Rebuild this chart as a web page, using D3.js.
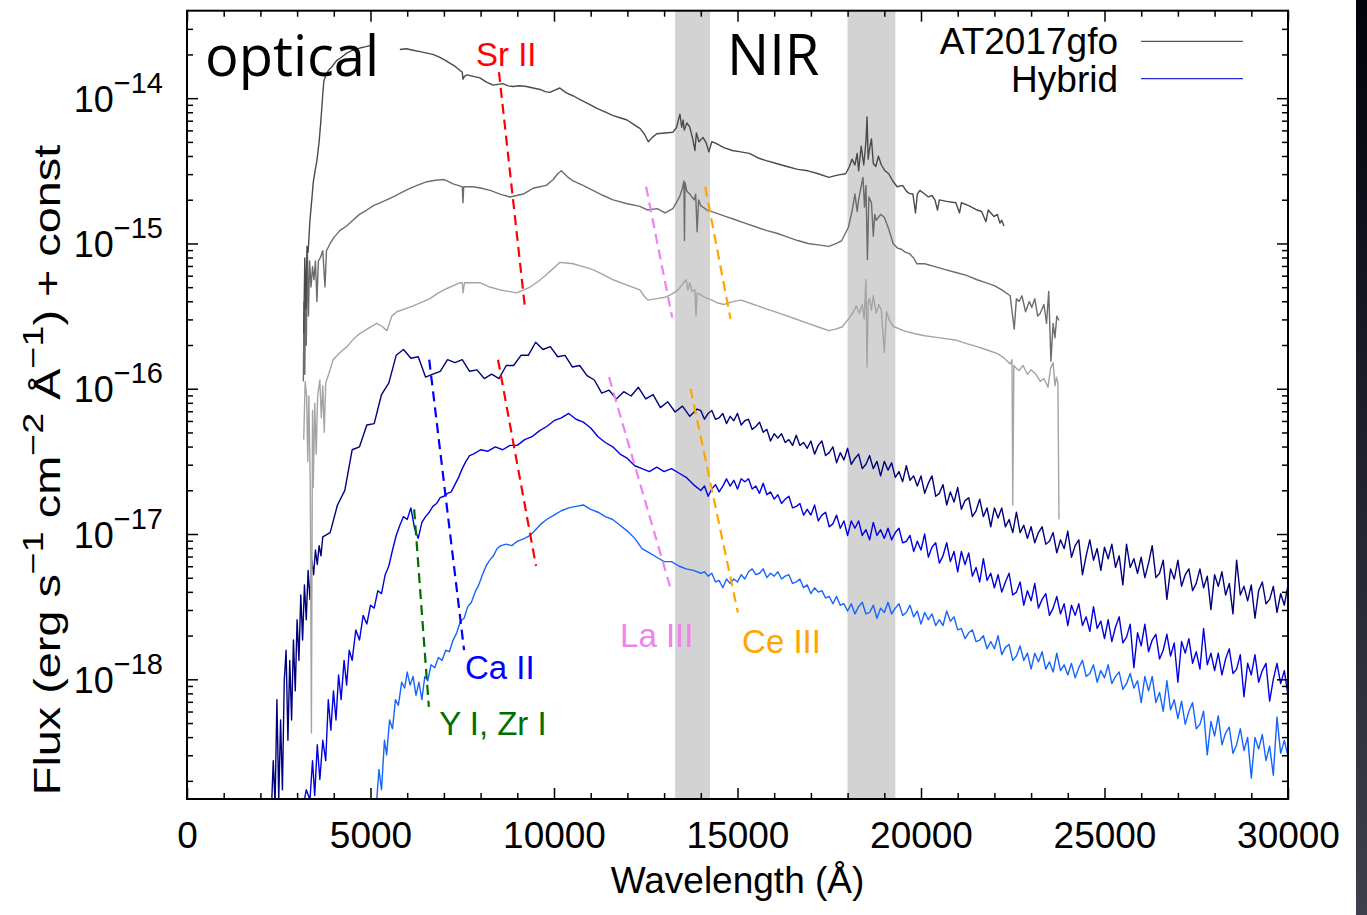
<!DOCTYPE html>
<html>
<head>
<meta charset="utf-8">
<script src="https://cdn.jsdelivr.net/npm/d3@7"></script>
<style>
  html, body { margin: 0; padding: 0; background: #fff; }
  svg { display: block; }
  text { font-family: "Liberation Sans", Arial, Helvetica, sans-serif; fill: #000; }
</style>
</head>
<body>
<svg id="chart" width="1367" height="915"></svg>
<script>
// spectra: [wavelength (Angstrom), log10 flux (erg s^-1 cm^-2 A^-1)]
// null flux = gap in the spectrum
const obs1 = [[3180,-15.62],[3210,-15.10],[3240,-15.45],[3270,-15.02],[3300,-15.06],[3350,-14.84],[3400,-14.70],[3440,-14.58],[3490,-14.50],[3540,-14.43],[3600,-14.30],[3640,-14.18],[3670,-14.08],[3700,-13.97],[3730,-13.88],[3790,-13.84],[3850,-13.81],[3960,-13.78],[4080,-13.74],[4200,-13.72],[4350,-13.69],[4520,-13.67],[4710,-13.655],[4880,-13.645],[5030,-13.635],[5300,null],
  [5800,-13.665],[5980,-13.66],[6160,-13.67],[6350,-13.68],[6540,-13.69],[6720,-13.70],[6890,-13.72],[7040,-13.74],[7170,-13.76],[7300,-13.78],[7440,-13.81],[7500,-13.82],[7520,-13.87],[7560,-13.85],[7630,-13.84],[7800,-13.85],[7980,-13.86],[8160,-13.89],[8340,-13.91],[8470,-13.905],[8610,-13.90],[8750,-13.915],[8880,-13.92],[9060,-13.915],[9250,-13.92],[9430,-13.93],[9620,-13.94],[9760,-13.955],[9890,-13.96],[10020,-13.945],[10160,-13.93],[10260,-13.95],[10350,-13.965],[10530,-13.985],[10710,-14.01],[10940,-14.04],[11170,-14.07],[11390,-14.095],[11610,-14.12],[11800,-14.135],[11990,-14.15],[12170,-14.18],[12350,-14.21],[12470,-14.25],[12570,-14.30],[12680,-14.27],[12800,-14.245],[13020,-14.24],[13240,-14.235],[13340,-14.20],[13430,-14.11],[13480,-14.20],[13520,-14.15],[13550,-14.22],[13620,-14.17],[13700,-14.20],[13780,-14.28],[13840,-14.36],[13880,-14.24],[13950,-14.30],[14060,-14.27],[14150,-14.31],[14220,-14.37],[14300,-14.30],[14400,-14.31],[14630,-14.34],[14860,-14.36],[15090,-14.37],[15320,-14.38],[15550,-14.41],[15780,-14.43],[16060,-14.45],[16350,-14.47],[16640,-14.49],[16920,-14.50],[17200,-14.52],[17490,-14.545],[17720,-14.53],[17950,-14.52],[18050,-14.47],[18120,-14.42],[18200,-14.46],[18260,-14.38],[18300,-14.50],[18370,-14.33],[18440,-14.46],[18500,-14.30],[18530,-14.13],[18560,-14.42],[18590,-14.36],[18650,-14.28],[18700,-14.45],[18770,-14.47],[18840,-14.40],[18920,-14.46],[19020,-14.50],[19120,-14.52],[19230,-14.57],[19350,-14.61],[19500,-14.60],[19600,-14.64],[19680,-14.655],[19780,-14.66],[19850,-14.79],[19900,-14.66],[19970,-14.635],[20100,-14.66],[20200,-14.68],[20300,-14.67],[20380,-14.70],[20450,-14.77],[20500,-14.70],[20700,-14.71],[20950,-14.72],[21050,-14.79],[21100,-14.72],[21300,-14.74],[21530,-14.77],[21650,-14.78],[21770,-14.85],[21830,-14.77],[21990,-14.815],[22080,-14.80],[22150,-14.86],[22200,-14.84],[22260,-14.88]];

const obs2 = [[3170,-15.95],[3190,-15.40],[3210,-15.90],[3230,-15.20],[3250,-15.70],[3280,-15.05],[3310,-15.50],[3340,-15.12],[3380,-15.30],[3420,-15.16],[3460,-15.25],[3500,-15.12],[3540,-15.40],[3580,-15.12],[3630,-15.10],[3700,-15.05],[3760,-15.30],[3800,-15.05],[3900,-15.00],[4000,-14.96],[4170,-14.91],[4350,-14.88],[4520,-14.84],[4700,-14.80],[4900,-14.77],[5080,-14.74],[5260,-14.72],[5440,-14.70],[5620,-14.68],[5800,-14.655],[6000,-14.63],[6270,-14.60],[6540,-14.575],[6770,-14.565],[7000,-14.56],[7130,-14.575],[7250,-14.59],[7380,-14.60],[7500,-14.61],[7520,-14.72],[7540,-14.61],[7800,-14.61],[8030,-14.62],[8260,-14.635],[8530,-14.66],[8800,-14.68],[8980,-14.67],[9160,-14.66],[9300,-14.64],[9430,-14.62],[9610,-14.61],[9790,-14.60],[9980,-14.56],[10100,-14.52],[10200,-14.50],[10360,-14.54],[10520,-14.57],[10790,-14.60],[11060,-14.635],[11340,-14.67],[11610,-14.70],[11970,-14.725],[12340,-14.745],[12560,-14.77],[12810,-14.76],[13030,-14.79],[13240,-14.76],[13420,-14.68],[13500,-14.62],[13540,-14.57],[13555,-14.98],[13570,-14.58],[13620,-14.64],[13700,-14.66],[13820,-14.70],[13860,-14.66],[13900,-14.92],[13940,-14.70],[14000,-14.74],[14170,-14.77],[14400,-14.79],[14630,-14.81],[14920,-14.835],[15200,-14.86],[15490,-14.885],[15780,-14.91],[16070,-14.93],[16350,-14.955],[16640,-14.98],[16920,-15.00],[17200,-15.01],[17490,-15.02],[17700,-15.00],[17840,-14.98],[18020,-14.89],[18120,-14.78],[18200,-14.66],[18260,-14.78],[18300,-14.70],[18360,-14.62],[18420,-14.545],[18460,-14.75],[18500,-14.60],[18540,-15.11],[18580,-14.68],[18650,-14.72],[18700,-14.95],[18740,-14.80],[18780,-14.84],[18900,-14.80],[19000,-14.82],[19120,-14.90],[19240,-15.00],[19350,-15.03],[19460,-15.04],[19570,-15.06],[19680,-15.07],[19800,-15.10],[19890,-15.14],[20100,-15.14],[20380,-15.16],[20660,-15.18],[20950,-15.20],[21240,-15.22],[21530,-15.25],[21760,-15.27],[22000,-15.29],[22200,-15.32],[22430,-15.36],[22540,-15.59],[22600,-15.38],[22670,-15.40],[22750,-15.36],[22850,-15.47],[22950,-15.40],[23020,-15.44],[23100,-15.38],[23180,-15.50],[23250,-15.48],[23350,-15.42],[23420,-15.55],[23480,-15.33],[23540,-15.81],[23600,-15.55],[23650,-15.65],[23700,-15.50],[23760,-15.53]];

const obs3 = [[3180,-16.35],[3220,-15.95],[3260,-16.05],[3290,-16.50],[3320,-16.05],[3360,-16.70],[3390,-18.37],[3420,-16.15],[3440,-16.68],[3480,-16.10],[3520,-16.45],[3560,-16.05],[3620,-15.94],[3660,-16.20],[3700,-15.98],[3740,-16.30],[3780,-15.96],[3900,-15.87],[3980,-15.80],[4170,-15.75],[4360,-15.71],[4530,-15.66],[4710,-15.62],[4940,-15.585],[5170,-15.55],[5310,-15.57],[5450,-15.60],[5580,-15.50],[5720,-15.47],[5940,-15.45],[6160,-15.43],[6390,-15.405],[6620,-15.38],[6850,-15.34],[7080,-15.31],[7260,-15.29],[7440,-15.27],[7500,-15.27],[7520,-15.34],[7560,-15.27],[7980,-15.27],[8250,-15.30],[8530,-15.32],[8760,-15.33],[8980,-15.34],[9170,-15.32],[9350,-15.30],[9580,-15.26],[9810,-15.21],[9990,-15.17],[10160,-15.13],[10340,-15.135],[10520,-15.14],[10790,-15.16],[11060,-15.18],[11340,-15.215],[11610,-15.25],[11970,-15.285],[12340,-15.32],[12450,-15.36],[12560,-15.39],[12800,-15.38],[13030,-15.37],[13200,-15.35],[13380,-15.32],[13500,-15.28],[13600,-15.25],[13650,-15.32],[13700,-15.27],[13760,-15.33],[13840,-15.32],[13870,-15.50],[13900,-15.34],[14100,-15.37],[14300,-15.39],[14470,-15.41],[14630,-15.42],[14870,-15.40],[15100,-15.39],[15330,-15.41],[15550,-15.43],[15840,-15.455],[16130,-15.48],[16530,-15.515],[16920,-15.55],[17200,-15.575],[17490,-15.60],[17670,-15.59],[17850,-15.575],[17960,-15.54],[18070,-15.505],[18160,-15.47],[18240,-15.43],[18320,-15.48],[18400,-15.42],[18450,-15.52],[18500,-15.25],[18530,-15.85],[18560,-15.40],[18600,-15.38],[18650,-15.46],[18700,-15.36],[18780,-15.48],[18850,-15.42],[18920,-15.46],[19000,-15.75],[19060,-15.47],[19140,-15.53],[19240,-15.57],[19520,-15.60],[19810,-15.62],[20100,-15.635],[20380,-15.645],[20660,-15.655],[20950,-15.665],[21240,-15.69],[21530,-15.71],[21820,-15.735],[22100,-15.76],[22270,-15.79],[22430,-15.83],[22480,-15.80],[22500,-16.80],[22530,-15.84],[22600,-15.86],[22670,-15.875],[22780,-15.84],[22900,-15.90],[23000,-15.87],[23130,-15.90],[23250,-15.95],[23350,-15.93],[23460,-15.99],[23530,-15.86],[23600,-15.82],[23650,-15.98],[23690,-15.92],[23730,-15.96],[23760,-16.90]];

const hybrid1 = [[2300,-18.90],[2350,-18.56],[2400,-18.86],[2450,-18.14],[2500,-18.83],[2550,-18.28],[2600,-18.76],[2650,-18.01],[2700,-17.80],[2750,-18.42],[2800,-17.87],[2850,-18.28],[2900,-17.73],[2950,-18.08],[3000,-17.59],[3050,-17.87],[3100,-17.42],[3150,-17.73],[3200,-17.35],[3250,-17.59],[3300,-17.25],[3350,-17.45],[3400,-17.18],[3450,-17.28],[3500,-17.11],[3550,-17.21],[3600,-17.08],[3650,-17.15],
  [3700,-17.02],[3900,-16.99],[4100,-16.80],[4300,-16.70],[4500,-16.42],[4700,-16.40],[4900,-16.25],[5100,-16.24],[5300,-16.04],[5500,-15.96],[5700,-15.77],[5900,-15.73],[6100,-15.79],[6300,-15.78],[6500,-15.92],[6700,-15.90],[6900,-15.88],[7100,-15.80],[7300,-15.82],[7500,-15.80],[7700,-15.88],[7900,-15.87],[8100,-15.93],[8300,-15.90],[8500,-15.93],[8700,-15.84],[8900,-15.84],[9100,-15.77],[9300,-15.77],[9500,-15.68],[9700,-15.73],[9900,-15.71],[10100,-15.78],[10300,-15.77],[10500,-15.85],[10700,-15.84],[10900,-15.91],[11100,-15.94],[11300,-16.03],[11500,-16.01],[11700,-16.07],[11900,-16.02],[12100,-16.05],[12300,-15.99],[12500,-16.07],[12700,-16.04],[12900,-16.13],[13100,-16.09],[13300,-16.16],[13500,-16.12],[13700,-16.19],[13900,-16.14],
  [14000,-16.15],[14100,-16.21],[14200,-16.17],[14300,-16.15],[14400,-16.21],[14500,-16.20],[14600,-16.17],[14700,-16.24],[14800,-16.19],[14900,-16.22],[15000,-16.17],[15100,-16.25],[15200,-16.22],[15300,-16.21],[15400,-16.28],[15500,-16.26],[15600,-16.23],[15700,-16.30],[15800,-16.28],[15900,-16.36],[16000,-16.31],[16100,-16.34],[16200,-16.31],[16300,-16.37],[16400,-16.35],[16500,-16.39],[16600,-16.32],[16700,-16.39],[16800,-16.37],[16900,-16.41],
  [17000,-16.36],[17100,-16.45],[17200,-16.39],[17300,-16.36],[17400,-16.46],[17500,-16.44],[17600,-16.40],[17700,-16.51],[17800,-16.44],[17900,-16.49],[18000,-16.41],[18100,-16.52],[18200,-16.48],[18300,-16.45],[18400,-16.55],[18500,-16.52],[18600,-16.46],[18700,-16.55],[18800,-16.50],[18900,-16.60],[19000,-16.50],[19100,-16.56],[19200,-16.51],[19300,-16.61],[19400,-16.57],[19500,-16.64],[19600,-16.53],[19700,-16.63],[19800,-16.60],[19900,-16.67],
  [20000,-16.60],[20100,-16.72],[20200,-16.65],[20300,-16.60],[20400,-16.74],[20500,-16.72],[20600,-16.66],[20700,-16.80],[20800,-16.71],[20900,-16.78],[21000,-16.68],[21100,-16.83],[21200,-16.77],[21300,-16.75],[21400,-16.88],[21500,-16.84],[21600,-16.76],[21700,-16.88],[21800,-16.82],[21900,-16.95],[22000,-16.82],[22100,-16.89],[22200,-16.82],[22300,-16.95],[22400,-16.90],[22500,-16.99],[22600,-16.85],[22700,-16.99],[22800,-16.94],[22900,-17.03],
  [23000,-16.95],[23100,-17.06],[23200,-16.99],[23300,-16.95],[23400,-17.07],[23500,-17.05],[23600,-16.99],[23700,-17.13],[23800,-17.04],[23900,-17.10],[24000,-16.98],[24100,-17.16],[24200,-17.08],[24300,-17.04],[24400,-17.28],[24500,-17.15],[24600,-17.04],[24700,-17.18],[24800,-17.10],[24900,-17.25],[25000,-17.09],[25100,-17.17],[25200,-17.07],[25300,-17.23],[25400,-17.15],[25500,-17.35],[25600,-17.07],[25700,-17.23],[25800,-17.17],[25900,-17.27],
  [26000,-17.16],[26100,-17.30],[26200,-17.20],[26300,-17.08],[26400,-17.30],[26500,-17.27],[26600,-17.18],[26700,-17.45],[26800,-17.24],[26900,-17.31],[27000,-17.18],[27100,-17.36],[27200,-17.28],[27300,-17.24],[27400,-17.39],[27500,-17.34],[27600,-17.24],[27700,-17.37],[27800,-17.29],[27900,-17.52],[28000,-17.28],[28100,-17.36],[28200,-17.26],[28300,-17.42],[28400,-17.34],[28500,-17.55],[28600,-17.18],[28700,-17.42],[28800,-17.36],[28900,-17.46],
  [29000,-17.35],[29100,-17.58],[29200,-17.39],[29300,-17.33],[29400,-17.48],[29500,-17.45],[29600,-17.36],[29700,-17.54],[29800,-17.41],[29900,-17.49],[30000,-17.35]];

const hybrid2 = [[3150,-18.90],[3250,-18.76],[3350,-18.83],[3420,-18.56],[3480,-18.80],[3550,-18.45],[3620,-18.69],[3700,-18.42],[3780,-18.56],[3850,-18.14],[3920,-18.35],[3990,-18.08],[4060,-18.28],[4130,-17.97],[4200,-18.14],[4280,-17.87],[4350,-18.04],[4420,-17.80],[4500,-17.87],[4600,-17.66],[4700,-17.73],[4800,-17.56],[4900,-17.62],[5000,-17.49],[5100,-17.51],[5200,-17.39],[5300,-17.41],[5400,-17.28],[5500,-17.22],[5600,-17.11],[5700,-17.01],[5800,-16.94],[5900,-16.88],[6000,-16.90],[6100,-16.82],[6200,-16.96],[6300,-17.03],[6400,-16.92],[6500,-16.88],[6600,-16.85],[6700,-16.81],[6800,-16.79],[6900,-16.75],[7000,-16.74],[7100,-16.72],[7200,-16.71],[7300,-16.66],[7400,-16.61],[7500,-16.55],[7600,-16.50],[7700,-16.46],[7800,-16.45],[8000,-16.42],[8200,-16.43],[8400,-16.40],[8600,-16.42],[8800,-16.39],[9000,-16.39],[9200,-16.35],[9400,-16.33],[9600,-16.29],[9800,-16.26],[10000,-16.22],[10200,-16.20],[10400,-16.17],[10600,-16.21],[10800,-16.23],[11000,-16.27],[11200,-16.33],[11400,-16.37],[11600,-16.40],[11800,-16.45],[12000,-16.48],[12200,-16.53],[12400,-16.55],[12600,-16.57],[12800,-16.54],[13000,-16.57],[13200,-16.55],[13400,-16.58],[13600,-16.61],[13800,-16.66],[14000,-16.70],
  [14100,-16.67],[14200,-16.74],[14300,-16.69],[14400,-16.66],[14500,-16.71],[14600,-16.67],[14700,-16.62],[14800,-16.67],[14900,-16.63],[15000,-16.69],[15100,-16.62],[15200,-16.64],[15300,-16.62],[15400,-16.69],[15500,-16.67],[15600,-16.72],[15700,-16.65],[15800,-16.73],[15900,-16.71],[16000,-16.76],[16100,-16.73],[16200,-16.79],[16300,-16.76],[16400,-16.74],[16500,-16.82],[16600,-16.81],[16700,-16.79],[16800,-16.87],[16900,-16.83],
  [17000,-16.87],[17100,-16.80],[17200,-16.91],[17300,-16.87],[17400,-16.85],[17500,-16.95],[17600,-16.93],[17700,-16.87],[17800,-16.96],[17900,-16.91],[18000,-17.01],[18100,-16.91],[18200,-16.96],[18300,-16.91],[18400,-17.01],[18500,-16.97],[18600,-17.04],[18700,-16.92],[18800,-17.01],[18900,-16.97],[19000,-17.03],[19100,-16.96],[19200,-17.04],[19300,-16.99],[19400,-16.96],[19500,-17.06],[19600,-17.05],[19700,-17.01],[19800,-17.12],[19900,-17.05],
  [20000,-17.11],[20100,-17.00],[20200,-17.16],[20300,-17.09],[20400,-17.06],[20500,-17.20],[20600,-17.15],[20700,-17.06],[20800,-17.19],[20900,-17.12],[21000,-17.26],[21100,-17.12],[21200,-17.21],[21300,-17.13],[21400,-17.29],[21500,-17.23],[21600,-17.33],[21700,-17.17],[21800,-17.32],[21900,-17.27],[22000,-17.37],[22100,-17.28],[22200,-17.40],[22300,-17.33],[22400,-17.27],[22500,-17.42],[22600,-17.40],[22700,-17.33],[22800,-17.49],[22900,-17.39],
  [23000,-17.46],[23100,-17.34],[23200,-17.51],[23300,-17.45],[23400,-17.41],[23500,-17.56],[23600,-17.51],[23700,-17.43],[23800,-17.55],[23900,-17.48],[24000,-17.63],[24100,-17.49],[24200,-17.56],[24300,-17.48],[24400,-17.63],[24500,-17.57],[24600,-17.67],[24700,-17.50],[24800,-17.65],[24900,-17.60],
  [25000,-17.72],[25100,-17.59],[25200,-17.74],[25300,-17.64],[25400,-17.57],[25500,-17.75],[25600,-17.71],[25700,-17.62],[25800,-17.92],[25900,-17.68],[26000,-17.77],[26100,-17.62],[26200,-17.81],[26300,-17.73],[26400,-17.69],[26500,-17.86],[26600,-17.80],[26700,-17.69],[26800,-17.84],[26900,-17.75],[27000,-18.02],[27100,-17.74],[27200,-17.82],[27300,-17.72],[27400,-17.89],[27500,-17.81],[27600,-17.93],[27700,-17.65],[27800,-17.90],[27900,-17.82],
  [28000,-17.94],[28100,-17.82],[28200,-17.97],[28300,-17.86],[28400,-17.79],[28500,-17.96],[28600,-17.93],[28700,-17.83],[28800,-18.12],[28900,-17.89],[29000,-17.97],[29100,-17.83],[29200,-18.02],[29300,-17.94],[29400,-17.89],[29500,-18.15],[29600,-18.00],[29700,-17.89],[29800,-18.03],[29900,-17.94],[30000,-18.11]];

const hybrid3 = [[5150,-18.90],[5230,-18.62],[5300,-18.76],[5380,-18.42],[5440,-18.52],[5520,-18.28],[5600,-18.34],[5680,-18.14],[5760,-18.18],[5850,-18.02],[5930,-18.06],[6000,-17.95],[6080,-18.04],[6160,-17.98],[6240,-18.11],[6320,-18.02],[6400,-18.14],[6480,-17.98],[6560,-18.01],[6650,-17.90],[6750,-17.92],[6850,-17.85],[6950,-17.87],[7050,-17.80],[7150,-17.81],[7250,-17.73],[7350,-17.68],[7450,-17.60],[7550,-17.58],[7650,-17.50],[7750,-17.47],[7850,-17.40],[7950,-17.35],[8050,-17.28],[8150,-17.22],[8250,-17.18],[8350,-17.15],[8450,-17.10],[8550,-17.08],[8700,-17.07],[8850,-17.08],[9000,-17.05],[9200,-17.03],[9350,-17.01],[9500,-16.97],[9650,-16.93],[9800,-16.90],[10000,-16.87],[10200,-16.84],[10400,-16.82],[10600,-16.81],[10800,-16.80],[11000,-16.83],[11200,-16.85],[11400,-16.88],[11600,-16.90],[11800,-16.94],[12000,-16.98],[12200,-17.03],[12400,-17.10],[12600,-17.13],[12800,-17.16],[13000,-17.19],[13200,-17.19],[13400,-17.22],[13600,-17.24],[13800,-17.25],[14000,-17.27],
  [14100,-17.26],[14200,-17.29],[14300,-17.27],[14400,-17.33],[14500,-17.32],[14600,-17.37],[14700,-17.31],[14800,-17.34],[14900,-17.31],[15000,-17.33],[15100,-17.28],[15200,-17.31],[15300,-17.26],[15400,-17.24],[15500,-17.28],[15600,-17.27],[15700,-17.24],[15800,-17.30],[15900,-17.27],[16000,-17.29],[16100,-17.26],[16200,-17.31],[16300,-17.29],[16400,-17.28],[16500,-17.34],[16600,-17.33],[16700,-17.31],[16800,-17.37],[16900,-17.35],[17000,-17.41],[17100,-17.37],[17200,-17.40],[17300,-17.39],[17400,-17.44],[17500,-17.43],[17600,-17.48],[17700,-17.43],[17800,-17.49],[17900,-17.48],
  [18000,-17.53],[18100,-17.48],[18200,-17.55],[18300,-17.50],[18400,-17.47],[18500,-17.55],[18600,-17.54],[18700,-17.49],[18800,-17.58],[18900,-17.51],[19000,-17.54],[19100,-17.47],[19200,-17.55],[19300,-17.51],[19400,-17.48],[19500,-17.56],[19600,-17.54],[19700,-17.49],[19800,-17.57],[19900,-17.53],[20000,-17.62],[20100,-17.54],[20200,-17.59],[20300,-17.55],[20400,-17.63],[20500,-17.59],[20600,-17.63],[20700,-17.53],[20800,-17.60],[20900,-17.57],[21000,-17.66],[21100,-17.65],[21200,-17.72],[21300,-17.68],[21400,-17.66],[21500,-17.74],[21600,-17.73],[21700,-17.70],[21800,-17.79],[21900,-17.74],
  [22000,-17.79],[22100,-17.70],[22200,-17.83],[22300,-17.78],[22400,-17.76],[22500,-17.87],[22600,-17.84],[22700,-17.77],[22800,-17.87],[22900,-17.82],[23000,-17.93],[23100,-17.82],[23200,-17.88],[23300,-17.81],[23400,-17.93],[23500,-17.88],[23600,-17.95],[23700,-17.82],[23800,-17.94],[23900,-17.90],[24000,-17.97],[24100,-17.89],[24200,-17.99],[24300,-17.92],[24400,-17.87],[24500,-17.98],[24600,-17.96],[24700,-17.90],[24800,-18.02],[24900,-17.94],[25000,-17.99],[25100,-17.90],[25200,-18.03],[25300,-17.98],[25400,-17.95],[25500,-18.07],[25600,-18.03],[25700,-17.96],[25800,-18.06],[25900,-18.01],
  [26000,-18.16],[26100,-17.98],[26200,-18.08],[26300,-17.98],[26400,-18.16],[26500,-18.09],[26600,-18.22],[26700,-18.01],[26800,-18.21],[26900,-18.14],[27000,-18.27],[27100,-18.15],[27200,-18.31],[27300,-18.22],[27400,-18.16],[27500,-18.34],[27600,-18.31],[27700,-18.22],[27800,-18.52],[27900,-18.29],[28000,-18.39],[28100,-18.25],[28200,-18.45],[28300,-18.37],[28400,-18.33],[28500,-18.51],[28600,-18.45],[28700,-18.34],[28800,-18.49],[28900,-18.40],[29000,-18.68],[29100,-18.40],[29200,-18.48],[29300,-18.38],[29400,-18.56],[29500,-18.46],[29600,-18.66],[29700,-18.26],[29800,-18.51],[29900,-18.42],[30000,-18.53]];

// shaded telluric windows (Angstrom)
const telluricBands = [[13300, 14250], [18000, 19300]];

// line-velocity guides: pairs of [wavelength, log10 flux] end points
const srII  = [[[8500, -13.82], [9210, -15.445]], [[8475, -15.80], [9510, -17.22]]];
const caII  = [[[6600, -15.80], [7550, -17.80]]];
const yZrI  = [[[6190, -16.83], [6590, -18.19]]];
const laIII = [[[12510, -14.61], [13220, -15.51]], [[11500, -15.92], [13160, -17.36]]];
const ceIII = [[[14120, -14.61], [14810, -15.52]], [[13720, -16.00], [15010, -17.54]]];

const ionNames  = ["Sr II", "Ca II", "Y I, Zr I", "La III", "Ce III"];
const ionLabelAt = [[7875, -13.78], [7575, -18.00], [6870, -18.385], [11800, -17.78], [15125, -17.82]];

const xTicks = [0, 5000, 10000, 15000, 20000, 25000, 30000];
const yTicks = [1e-18, 1e-17, 1e-16, 1e-15, 1e-14];
const legendNames = ["AT2017gfo", "Hybrid"];

// ---------------------------------------------------------------
const svg = d3.select("#chart");
const pL = 187, pR = 1288, pT = 10.7, pB = 799;

const x = d3.scaleLinear().domain([0, 30000]).range([pL, pR]);
const y = d3.scaleLog().domain([1.5e-19, 4e-14]).range([pB, pT]);
const fy = v => y(Math.pow(10, v));

// dark edge of the original screenshot
const defs = svg.append("defs");
const grad = defs.append("linearGradient").attr("id", "edge")
    .attr("x1", 0).attr("y1", 0).attr("x2", 0).attr("y2", 1);
grad.append("stop").attr("offset", "0%").attr("stop-color", "#03030c");
grad.append("stop").attr("offset", "100%").attr("stop-color", "#40404c");
svg.append("rect").attr("x", 1356).attr("y", 0).attr("width", 11).attr("height", 915)
    .attr("fill", "url(#edge)");

defs.append("clipPath").attr("id", "plotArea").append("rect")
    .attr("x", pL).attr("y", pT).attr("width", pR - pL).attr("height", pB - pT);

// telluric bands
svg.append("g").selectAll("rect").data(telluricBands).join("rect")
    .attr("x", d => x(d[0]))
    .attr("width", d => x(d[1]) - x(d[0]))
    .attr("y", pT).attr("height", pB - pT)
    .attr("fill", "#d3d3d3");

// spectra
const line = d3.line()
    .defined(d => d[1] !== null)
    .x(d => x(d[0]))
    .y(d => fy(d[1]));

const series = [hybrid1, hybrid2, hybrid3, obs3, obs2, obs1];
const seriesColor = ["#00007e", "#0000e2", "#1564ff", "#a4a4a4", "#6c6c6c", "#4a4a4a"];

const curves = svg.append("g").attr("clip-path", "url(#plotArea)");
curves.selectAll("path").data(series).join("path")
    .attr("d", line)
    .attr("fill", "none")
    .attr("stroke", (d, i) => seriesColor[i])
    .attr("stroke-width", 1.4)
    .attr("stroke-linejoin", "round");

// dashed ion guides
const guides = [srII, caII, yZrI, laIII, ceIII];
const ionColor = ["#ff0000", "#0000ff", "#006e00", "#ee82ee", "#ffa500"];
guides.forEach((segs, i) => {
    svg.append("g").selectAll("line").data(segs).join("line")
        .attr("x1", d => x(d[0][0])).attr("y1", d => fy(d[0][1]))
        .attr("x2", d => x(d[1][0])).attr("y2", d => fy(d[1][1]))
        .attr("stroke", ionColor[i])
        .attr("stroke-width", 2.2)
        .attr("stroke-dasharray", "10,6");
});

svg.append("g").selectAll("text").data(ionNames).join("text")
    .attr("x", (d, i) => x(ionLabelAt[i][0]))
    .attr("y", (d, i) => fy(ionLabelAt[i][1]))
    .attr("font-size", 33)
    .style("fill", (d, i) => ionColor[i])
    .text(d => d);

// region labels
svg.append("text").attr("x", 205).attr("y", 76)
    .attr("font-size", 56).style("font-family", "'Open Sans', sans-serif")
    .text("optical");
svg.append("text").attr("x", 727).attr("y", 75)
    .attr("font-size", 56).style("font-family", "'Open Sans', sans-serif")
    .text("NIR");

// legend
const legend = svg.append("g");
const legendColor = ["#555555", "#2a2ad2"];
const legendRowY = [41.3, 78.7];
legendNames.forEach((name, i) => {
    legend.append("text").attr("x", 1118).attr("y", legendRowY[i] + 13)
        .attr("text-anchor", "end").attr("font-size", 37).text(name);
    legend.append("line").attr("x1", 1141).attr("x2", 1243)
        .attr("y1", legendRowY[i]).attr("y2", legendRowY[i])
        .attr("stroke", legendColor[i]).attr("stroke-width", 1.3);
});

// axes (ticks point inward on all four sides)
const xMinor = d3.range(1000, 30000, 1000).filter(v => v % 5000 !== 0);
const yMinor = [];
for (let k = -19; k <= -14; k++) {
    for (let m = 2; m <= 9; m++) {
        const v = m * Math.pow(10, k);
        if (v > 1.5e-19 && v < 4e-14) yMinor.push(v);
    }
}

function styleAxis(g) {
    g.select(".domain").remove();
    g.selectAll(".tick line").attr("stroke", "#000").attr("stroke-width", 1.5);
    g.attr("font-family", null).attr("font-size", null);
}

// bottom
svg.append("g").attr("transform", `translate(0,${pB})`)
    .call(d3.axisBottom(x).tickValues(xTicks).tickSizeInner(-11).tickSizeOuter(0)
        .tickPadding(23).tickFormat(d3.format("d")))
    .call(styleAxis)
    .selectAll(".tick text").attr("font-size", 37);
svg.append("g").attr("transform", `translate(0,${pB})`)
    .call(d3.axisBottom(x).tickValues(xMinor).tickSizeInner(-6).tickSizeOuter(0).tickFormat(""))
    .call(styleAxis);
// top
svg.append("g").attr("transform", `translate(0,${pT})`)
    .call(d3.axisTop(x).tickValues(xTicks).tickSizeInner(-11).tickSizeOuter(0).tickFormat(""))
    .call(styleAxis);
svg.append("g").attr("transform", `translate(0,${pT})`)
    .call(d3.axisTop(x).tickValues(xMinor).tickSizeInner(-6).tickSizeOuter(0).tickFormat(""))
    .call(styleAxis);
// left
const gLeft = svg.append("g").attr("transform", `translate(${pL},0)`)
    .call(d3.axisLeft(y).tickValues(yTicks).tickSizeInner(-11).tickSizeOuter(0)
        .tickPadding(24).tickFormat(() => ""))
    .call(styleAxis);
gLeft.selectAll(".tick text").each(function (d) {
    const e = Math.round(Math.log10(d));
    const t = d3.select(this).attr("dy", null).attr("y", 13).attr("font-size", 36);
    t.append("tspan").text("10");
    t.append("tspan").attr("dy", -19).attr("font-size", 29).text("\u2212" + (-e));
});
svg.append("g").attr("transform", `translate(${pL},0)`)
    .call(d3.axisLeft(y).tickValues(yMinor).tickSizeInner(-6).tickSizeOuter(0).tickFormat(""))
    .call(styleAxis);
// right
svg.append("g").attr("transform", `translate(${pR},0)`)
    .call(d3.axisRight(y).tickValues(yTicks).tickSizeInner(-11).tickSizeOuter(0).tickFormat(""))
    .call(styleAxis);
svg.append("g").attr("transform", `translate(${pR},0)`)
    .call(d3.axisRight(y).tickValues(yMinor).tickSizeInner(-6).tickSizeOuter(0).tickFormat(""))
    .call(styleAxis);

// frame
svg.append("rect").attr("x", pL).attr("y", pT)
    .attr("width", pR - pL).attr("height", pB - pT)
    .attr("fill", "none").attr("stroke", "#000").attr("stroke-width", 2);

// axis titles
svg.append("text").attr("x", (pL + pR) / 2).attr("y", 893)
    .attr("text-anchor", "middle").attr("font-size", 37)
    .text("Wavelength (\u00c5)");

const yTitle = svg.append("text")
    .attr("transform", "translate(60,470) rotate(-90) scale(1.3,1)")
    .attr("text-anchor", "middle").attr("font-size", 36);
const yTitleParts = [["Flux (erg s", 0], ["\u22121", 1], [" cm", 0], ["\u22122", 1], [" \u00c5", 0], ["\u22121", 1], [") + const", 0]];
yTitleParts.forEach((p, i) => {
    const prevSup = i > 0 && yTitleParts[i - 1][1];
    const ts = yTitle.append("tspan").text(p[0]);
    if (p[1]) ts.attr("dy", -17).attr("font-size", 29);
    else if (prevSup) ts.attr("dy", 17);
});
</script>
</body>
</html>
